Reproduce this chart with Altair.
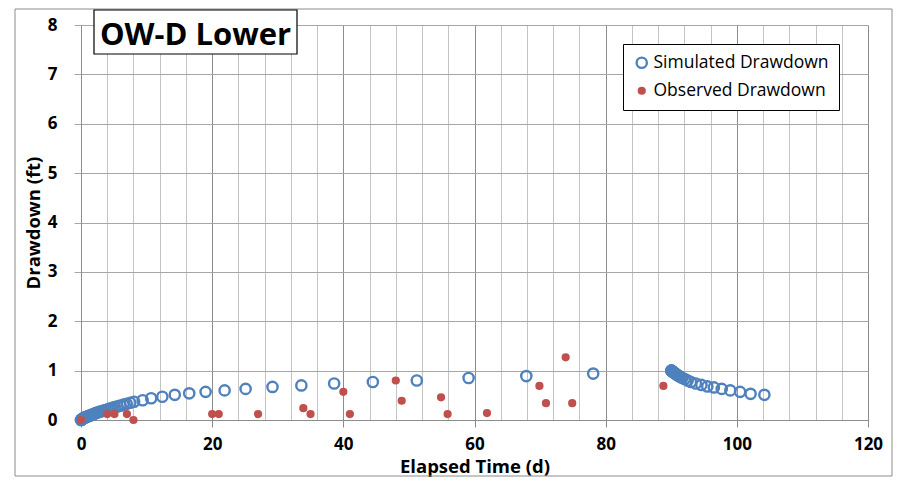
import altair as alt
import pandas as pd

FONT = "Open Sans"

# Simulated drawdown (pumping period, then recovery)
sim_t = [0.0, 0.03, 0.07, 0.11, 0.15, 0.2, 0.25, 0.31, 0.37, 0.44, 0.51, 0.59, 0.67, 0.76, 0.85,
         0.95, 1.06, 1.18, 1.3, 1.44, 1.58, 1.74, 1.9, 2.08, 2.27, 2.48, 2.7, 2.95, 3.2, 3.47,
         3.75, 4.07, 4.4, 4.77, 5.15, 5.57, 6.0, 6.48, 6.97, 7.52, 8.1, 9.4, 10.7, 12.4, 14.3,
         16.5, 19.0, 21.9, 25.1, 29.2, 33.6, 38.6, 44.5, 51.2, 59.1, 67.9, 78.1,
         90.0, 90.02, 90.05, 90.08, 90.12, 90.17, 90.23, 90.3, 90.4, 90.5, 90.62, 90.77,
         90.95, 91.15, 91.4, 91.7, 92.05, 92.5, 93.0, 93.75, 94.6, 95.5, 96.5, 97.7, 99.0,
         100.5, 102.1, 104.2]
sim_s = [0.0, 0.0, 0.005, 0.01, 0.015, 0.02, 0.025, 0.03, 0.035, 0.04, 0.045, 0.05, 0.055, 0.06, 0.065,
         0.07, 0.075, 0.08, 0.09, 0.095, 0.10, 0.11, 0.12, 0.13, 0.14, 0.15, 0.16, 0.17, 0.18, 0.19,
         0.20, 0.215, 0.23, 0.245, 0.26, 0.275, 0.29, 0.31, 0.33, 0.35, 0.37, 0.40, 0.44, 0.47, 0.51,
         0.54, 0.57, 0.60, 0.63, 0.67, 0.70, 0.74, 0.77, 0.80, 0.85, 0.89, 0.94,
         1.00, 1.00, 1.00, 0.99, 0.99, 0.98, 0.98, 0.97, 0.96, 0.95, 0.94, 0.92,
         0.91, 0.89, 0.87, 0.85, 0.83, 0.80, 0.77, 0.74, 0.71, 0.68, 0.66, 0.63, 0.60,
         0.57, 0.53, 0.51]

# Observed drawdown
obs_t = [0.0, 4.0, 5.1, 7.0, 8.0, 20.0, 21.0, 27.0, 33.9, 35.0, 40.0, 41.0, 48.0, 48.9,
         54.9, 55.9, 61.9, 69.9, 70.9, 73.9, 74.9, 88.8]
obs_s = [0.0, 0.12, 0.12, 0.12, 0.0, 0.12, 0.12, 0.12, 0.24, 0.12, 0.57, 0.12, 0.80, 0.39,
         0.46, 0.12, 0.14, 0.69, 0.34, 1.27, 0.34, 0.69]

series_names = ["Simulated Drawdown", "Observed Drawdown"]
series_stroke = ["#4F81BD", "#C0504D"]
series_fill = ["transparent", "#C0504D"]
series_size = [105, 34]

x_ticks = [0, 4, 8, 12, 16, 20, 24, 28, 32, 36, 40, 44, 48, 52, 56, 60, 64, 68, 72, 76,
           80, 84, 88, 92, 96, 100, 104, 108, 112, 116, 120]
y_ticks = [0, 1, 2, 3, 4, 5, 6, 7, 8]
title_text = "OW-D Lower"

df = pd.concat([
    pd.DataFrame({"t": sim_t, "s": sim_s, "series": series_names[0]}),
    pd.DataFrame({"t": obs_t, "s": obs_s, "series": series_names[1]}),
], ignore_index=True)

major = "datum.value % 20 === 0"

points = alt.Chart(df).mark_point(strokeWidth=2.4, opacity=1).encode(
    x=alt.X("t:Q", scale=alt.Scale(domain=[0, 120], nice=False, zero=False),
            axis=alt.Axis(values=x_ticks, title="Elapsed Time (d)",
                          labelExpr=f"{major} ? datum.label : ''", labelFlush=False,
                          gridColor={"condition": {"test": major, "value": "#8C8C8C"}, "value": "#C4C4C4"},
                          tickColor={"condition": {"test": major, "value": "#8C8C8C"}, "value": "transparent"},
                          tickSize=7, labelPadding=9, titlePadding=5)),
    y=alt.Y("s:Q", scale=alt.Scale(domain=[0, 8], nice=False),
            axis=alt.Axis(values=y_ticks, title="Drawdown (ft)", gridColor="#A6A6A6",
                          tickColor="#A6A6A6", tickSize=7, labelPadding=17, titlePadding=4)),
    stroke=alt.Stroke("series:N", scale=alt.Scale(domain=series_names, range=series_stroke),
                      legend=alt.Legend(title=None, orient="none", legendX=542, legendY=19,
                                        padding=10, rowPadding=8, strokeColor="black",
                                        fillColor="white", labelFontSize=17.5, labelFont=FONT,
                                        labelLimit=400, labelColor="black",
                                        symbolStrokeWidth=2.4, labelOffset=3)),
    fill=alt.Fill("series:N", scale=alt.Scale(domain=series_names, range=series_fill)),
    size=alt.Size("series:N", scale=alt.Scale(domain=series_names, range=series_size)),
)

title_df = pd.DataFrame({"label": [title_text]})
border = alt.Chart(title_df).mark_rect(fillOpacity=0, stroke="#8C8C8C", strokeWidth=1).encode(
    x=alt.value(-66), x2=alt.value(811), y=alt.value(-16), y2=alt.value(451))
title_box = alt.Chart(title_df).mark_rect(fill="white", stroke="black", strokeWidth=1.2).encode(
    x=alt.value(13), x2=alt.value(216), y=alt.value(-15), y2=alt.value(29))
title_txt = alt.Chart(title_df).mark_text(font=FONT, fontSize=31, fontWeight="bold",
                                          align="center", baseline="alphabetic", color="black").encode(
    text="label:N", x=alt.value(114.5), y=alt.value(19.5))

chart = alt.layer(border, points, title_box, title_txt).properties(
    width=787, height=395, padding={"left": 6, "top": 0, "right": 0, "bottom": 0}
).configure_view(strokeWidth=0).configure_axis(
    domainColor="#8C8C8C", labelFont=FONT, labelFontSize=17, labelFontWeight="bold",
    labelColor="black", titleFont=FONT, titleFontSize=18.5, titleFontWeight="bold",
    titleColor="black"
)

chart.save("out.html", embed_options={"renderer": "svg", "actions": False})
